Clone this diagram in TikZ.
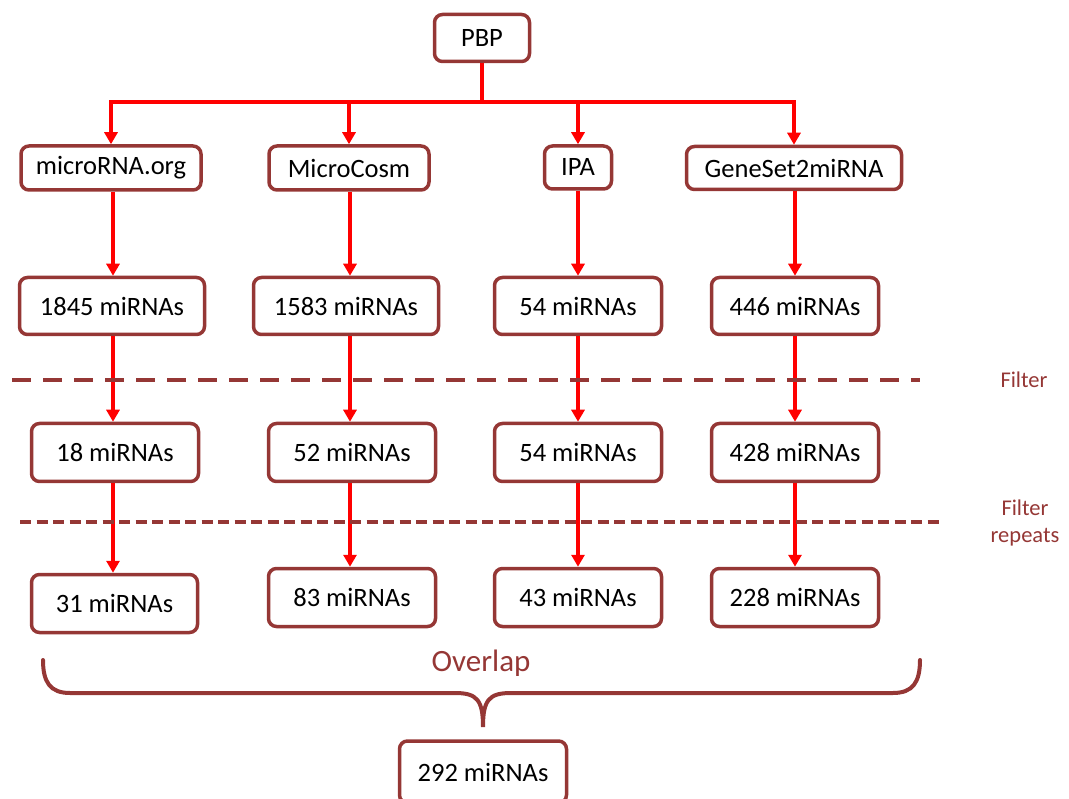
\documentclass[tikz,border=0pt]{standalone}
\usepackage{fontspec}
\setmainfont{Carlito}
\usetikzlibrary{arrows.meta}
\definecolor{brn}{HTML}{953735}
\definecolor{ared}{HTML}{FF0000}
\tikzset{
  box/.style={draw=brn, line width=3.5pt, rounded corners=8pt, fill=white, text=black,
    inner sep=0pt, font=\fontsize{26.5}{30}\selectfont},
  conn/.style={draw=ared, line width=4pt},
  arr/.style={conn, -{Triangle[width=13pt,length=12pt]}},
  arrthin/.style={arr, line width=3.2pt},
  divider/.style={draw=brn, line width=4pt},
  side/.style={text=brn, font=\fontsize{22.5}{27}\selectfont, align=center},
}
\begin{document}
\begin{tikzpicture}[x=1pt,y=-1pt]
\useasboundingbox (0,0) rectangle (1069,799);
% column coordinates
\coordinate (c1) at (113,0);
\coordinate (c2) at (350,0);
\coordinate (c3) at (578,0);
\coordinate (c4) at (795,0);
% top
\node[box, minimum width=95pt, minimum height=47pt] (pbp) at (482,38) {PBP};
\node[box, minimum width=180pt, minimum height=44pt] (mra) at (111,168) {microRNA.org};
\node[box, minimum width=160pt, minimum height=44pt] (mcs) at (349,168) {MicroCosm};
\node[box, minimum width=67pt, minimum height=43pt] (ipa) at (578,167.5) {IPA};
\node[box, minimum width=215pt, minimum height=43pt] (gs) at (794,168) {GeneSet2miRNA};
% row 2
\node[box, minimum width=185pt, minimum height=57pt] (a2) at (112,306) {1845 miRNAs};
\node[box, minimum width=185pt, minimum height=57pt] (b2) at (346,306) {1583 miRNAs};
\node[box, minimum width=167pt, minimum height=57pt] (d2) at (578,306) {54 miRNAs};
\node[box, minimum width=167pt, minimum height=57pt] (e2) at (795,306) {446 miRNAs};
% row 3
\node[box, minimum width=167pt, minimum height=58pt] (a3) at (115,452.5) {18 miRNAs};
\node[box, minimum width=167pt, minimum height=58pt] (b3) at (352,452.5) {52 miRNAs};
\node[box, minimum width=167pt, minimum height=58pt] (d3) at (578,452.5) {54 miRNAs};
\node[box, minimum width=167pt, minimum height=58pt] (e3) at (795,452.5) {428 miRNAs};
% row 4
\node[box, minimum width=166pt, minimum height=58pt] (a4) at (114.5,603.5) {31 miRNAs};
\node[box, minimum width=167pt, minimum height=58pt] (b4) at (352,597.5) {83 miRNAs};
\node[box, minimum width=167pt, minimum height=58pt] (d4) at (578,597.5) {43 miRNAs};
\node[box, minimum width=167pt, minimum height=58pt] (e4) at (795,597.5) {228 miRNAs};
% bottom
\node[box, minimum width=167pt, minimum height=62pt] (res) at (483,772) {292 miRNAs};
% top connectors
\coordinate (j) at (482,102);
\draw[conn] (pbp.south) -- (j);
\draw[arr] (j) -| (mra.north);
\draw[arr] (j) -| (mcs.north);
\draw[arr] (j) -| (ipa.north);
\draw[arr] (j) -| (gs.north);
% vertical arrows
\foreach \u/\v/\c in {mra/a2/c1, mcs/b2/c2, ipa/d2/c3, gs/e2/c4}
  \draw[arr] (\u.south -| \c) -- (\v.north -| \c);
\foreach \u/\v/\c in {a2/a3/c1, b2/b3/c2, d2/d3/c3, e2/e3/c4}
  \draw[arr, line width=3.6pt] (\u.south -| \c) -- (\v.north -| \c);
\foreach \u/\v/\c in {a3/a4/c1, b3/b4/c2, d3/d4/c3, e3/e4/c4}
  \draw[arrthin] (\u.south -| \c) -- (\v.north -| \c);
% dividers
\coordinate (f1a) at (12,380);
\coordinate (f1b) at (920,380);
\coordinate (f2a) at (20,522);
\coordinate (f2b) at (940,522);
\draw[divider, dash pattern=on 19pt off 12pt] (f1a) -- (f1b);
\draw[divider, line width=3.6pt, dash pattern=on 11pt off 5.5pt] (f2a) -- (f2b);
\node[side] (filt) at (1024,380) {Filter};
\node[side] (filtr) at (1025,523) {Filter\\repeats};
% brace
\node[text=brn, font=\fontsize{31}{36}\selectfont] (ovl) at (481,663) {Overlap};
\coordinate (bl) at (43,660);
\coordinate (br) at (920,660);
\coordinate (bm) at (483,727);
\draw[brn, line width=4pt, line cap=round]
  (bl) .. controls (43,682) and (50,693) .. (70,693)
  -- (455,693) .. controls (477,693) and (483,700) .. (bm)
  .. controls (483,700) and (489,693) .. (511,693)
  -- (893,693) .. controls (913,693) and (920,682) .. (br);
\end{tikzpicture}
\end{document}
